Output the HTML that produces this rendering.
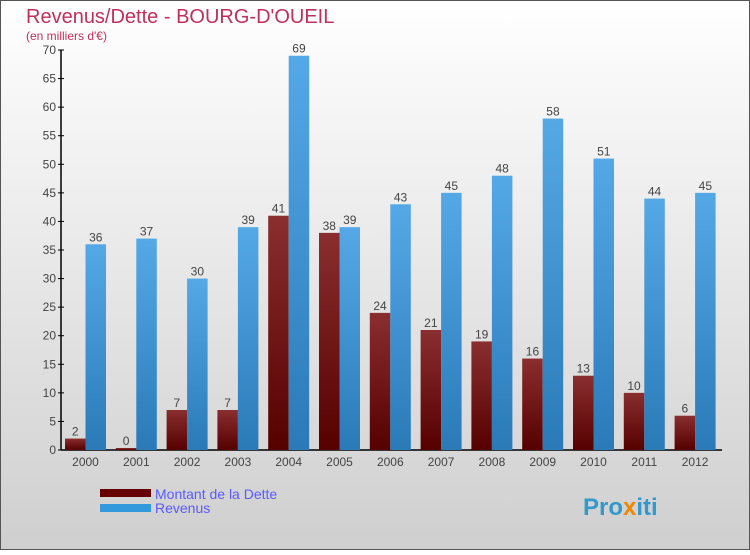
<!DOCTYPE html>
<html><head><meta charset="utf-8"><style>
body{margin:0;width:750px;height:550px;overflow:hidden;font-family:"Liberation Sans",sans-serif}
</style></head><body>
<svg width="750" height="550" xmlns="http://www.w3.org/2000/svg">
<defs>
<linearGradient id="bg" x1="0" y1="0" x2="0" y2="1"><stop offset="0" stop-color="#ffffff"/><stop offset="1" stop-color="#cfcfcf"/></linearGradient>
<linearGradient id="gd" x1="0" y1="0" x2="0" y2="1"><stop offset="0" stop-color="#8a2e30"/><stop offset="1" stop-color="#560000"/></linearGradient>
<linearGradient id="gr" x1="0" y1="0" x2="0" y2="1"><stop offset="0" stop-color="#55a8e6"/><stop offset="1" stop-color="#2a7ab8"/></linearGradient>
</defs>
<rect x="0.5" y="0.5" width="749" height="549" fill="url(#bg)" stroke="#555"/>
<text x="26" y="23" font-size="20" fill="#c0305a">Revenus/Dette - BOURG-D'OUEIL</text>
<text x="26" y="40" font-size="12" fill="#c0305a">(en milliers d'€)</text>
<g id="axes"></g>
<g id="bars"></g>
<rect x="100" y="489" width="51" height="8" fill="#660000"/>
<rect x="100" y="504" width="51" height="8" fill="#3399dd"/>
<text x="155" y="499" font-size="14" fill="#5a5aff">Montant de la Dette</text>
<text x="155" y="513" font-size="14" fill="#5a5aff">Revenus</text>
<text x="583" y="515" font-size="24" font-weight="bold" fill="#3399cc">Pro<tspan fill="#ee8800">x</tspan>iti</text>
</svg>
<script>
const years=["2000","2001","2002","2003","2004","2005","2006","2007","2008","2009","2010","2011","2012"];
const dette=[2,0,7,7,41,38,24,21,19,16,13,10,6];
const revenus=[36,37,30,39,69,39,43,45,48,58,51,44,45];
const yTicks=[0,5,10,15,20,25,30,35,40,45,50,55,60,65,70];
const NS="http://www.w3.org/2000/svg";
const x0=65,gw=50.8,bw=20.5,yb=450,ppu=400/70;
const y=v=>yb-v*ppu;
function mk(t,a,p){const e=document.createElementNS(NS,t);for(const k in a)e.setAttribute(k,a[k]);p.appendChild(e);return e;}
const ax=document.getElementById('axes'),bars=document.getElementById('bars');
const yl=mk('line',{x1:61,y1:50,x2:61,y2:450,stroke:'#000','stroke-width':1.5},ax);


const xl=mk('line',{x1:61,y1:450,x2:722,y2:450,stroke:'#000','stroke-width':1.5},ax);


yTicks.forEach(v=>{
 mk('line',{x1:58,y1:y(v),x2:64,y2:y(v),stroke:'#000'},ax);
 const t=mk('text',{x:56,y:y(v)+4,'font-size':12,fill:'#444','text-anchor':'end'},ax);t.textContent=v;
 
 
});
years.forEach((yr,i)=>{
 const gx=x0+i*gw;
 const t=mk('text',{x:gx+bw,y:466,'font-size':12,fill:'#444','text-anchor':'middle'},ax);t.textContent=yr;
 
 
 const d=mk('rect',{x:gx,y:y(dette[i])-(dette[i]?0:2),width:bw,height:Math.max(dette[i]*ppu,2),fill:'url(#gd)'},bars);
 
 
 const r=mk('rect',{x:gx+bw,y:y(revenus[i]),width:bw,height:revenus[i]*ppu,fill:'url(#gr)'},bars);
 
 
 const l1=mk('text',{x:gx+bw/2,y:y(dette[i])-(dette[i]?3:5),'font-size':12,fill:'#444','text-anchor':'middle'},bars);l1.textContent=dette[i];
 
 
 const l2=mk('text',{x:gx+bw*1.5,y:y(revenus[i])-3,'font-size':12,fill:'#444','text-anchor':'middle'},bars);l2.textContent=revenus[i];
 
 
});
</script>
</body></html>
